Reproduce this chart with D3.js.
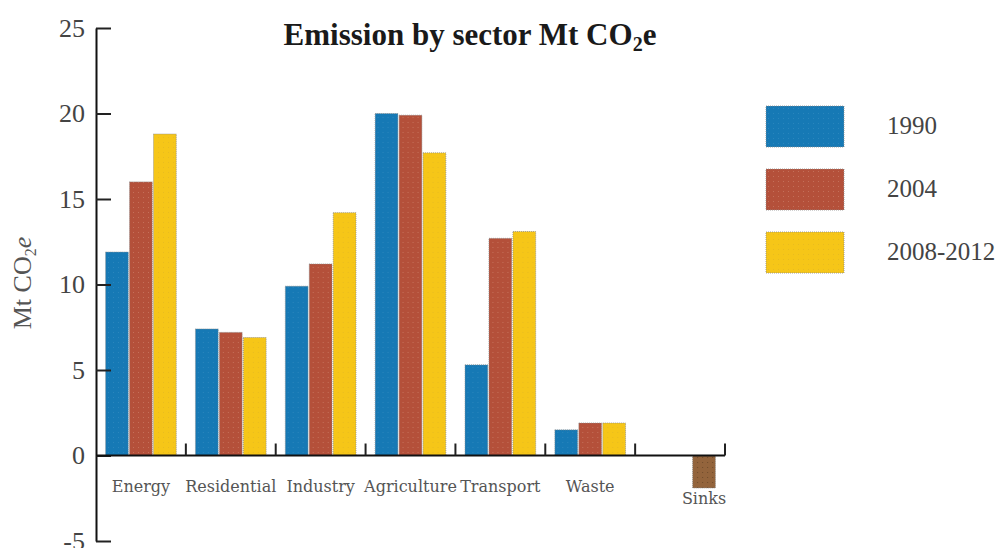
<!DOCTYPE html>
<html>
<head>
<meta charset="utf-8">
<script src="https://cdn.jsdelivr.net/npm/d3@7"></script>
<style>
  body { margin: 0; background: #fff; }
  svg { display: block; }
</style>
</head>
<body>
<svg id="chart" width="1000" height="548"></svg>
<script>
// données
var sectors = ["Energy", "Residential", "Industry", "Agriculture", "Transport", "Waste", "Sinks"];
var series = ["1990", "2004", "2008-2012"];
var val1990 = [11.9, 7.4, 9.9, 20.0, 5.3, 1.5, null];
var val2004 = [16.0, 7.2, 11.2, 19.9, 12.7, 1.9, null];
var val2008 = [18.8, 6.9, 14.2, 17.7, 13.1, 1.9, -1.9];
var yTicks = [-5, 0, 5, 10, 15, 20, 25];

var colors = ["#1679b5", "#b4503a", "#f6c618"];
var sinkColor = "#93643c";

var svg = d3.select("#chart");

// motifs pointillés pour imiter la trame des barres
var defs = svg.append("defs");
function makePattern(id, base, dot) {
  var p = defs.append("pattern")
    .attr("id", id)
    .attr("width", 5)
    .attr("height", 5)
    .attr("patternUnits", "userSpaceOnUse");
  p.append("rect").attr("width", 5).attr("height", 5).attr("fill", base);
  p.append("rect").attr("x", 2).attr("y", 2).attr("width", 1).attr("height", 1).attr("fill", dot);
}
makePattern("pat0", colors[0], "#2a86bd");
makePattern("pat1", colors[1], "#c4705a");
makePattern("pat2", colors[2], "#e8bb20");
makePattern("patS", sinkColor, "#6e4a2a");

// échelles
var y = d3.scaleLinear().domain([-5, 25]).range([541, 28]);
var x = d3.scaleBand().domain(sectors).range([96, 725]).padding(0);
var xSub = d3.scaleBand().domain(series).range([0, x.bandwidth()])
  .paddingInner(0.05).paddingOuter(0.4);

var table = sectors.map(function(s, i) {
  return { sector: s, values: [val1990[i], val2004[i], val2008[i]] };
});

// barres
var groups = svg.append("g").selectAll("g")
  .data(table)
  .enter()
  .append("g")
  .attr("transform", function(d) { return "translate(" + x(d.sector) + ",0)"; });

groups.selectAll("rect")
  .data(function(d) {
    return d.values.map(function(v, j) { return { key: series[j], j: j, v: v }; })
      .filter(function(e) { return e.v != null; });
  })
  .enter()
  .append("rect")
  .attr("x", function(d) { return xSub(d.key); })
  .attr("width", xSub.bandwidth())
  .attr("y", function(d) { return y(Math.max(0, d.v)); })
  .attr("height", function(d) { return Math.abs(y(d.v) - y(0)); })
  .attr("fill", function(d) { return d.v < 0 ? "url(#patS)" : "url(#pat" + d.j + ")"; })
  .attr("stroke", "#8a8a8a")
  .attr("stroke-width", 0.8)
  .attr("stroke-dasharray", "1,1");

// axe Y
var yAxis = d3.axisLeft(y)
  .tickValues(yTicks)
  .tickSize(-15)
  .tickSizeOuter(0)
  .tickPadding(11);

var gy = svg.append("g")
  .attr("transform", "translate(96,0)")
  .call(yAxis);
gy.select(".domain").attr("stroke", "#111").attr("stroke-width", 2);
gy.selectAll(".tick line").attr("stroke", "#222").attr("stroke-width", 2);
gy.selectAll(".tick text")
  .attr("font-family", "Liberation Serif, serif")
  .attr("font-size", "26px")
  .attr("fill", "#444")
  .text(function(d) { return d < 0 ? "-" + Math.abs(d) : d; });

// axe X (ligne du zéro avec graduations entre secteurs)
svg.append("line")
  .attr("x1", x.range()[0])
  .attr("x2", x.range()[1])
  .attr("y1", y(0))
  .attr("y2", y(0))
  .attr("stroke", "#111")
  .attr("stroke-width", 2);

svg.append("g").selectAll("line")
  .data(sectors)
  .enter()
  .append("line")
  .attr("x1", function(d) { return x(d) + x.bandwidth(); })
  .attr("x2", function(d) { return x(d) + x.bandwidth(); })
  .attr("y1", y(0))
  .attr("y2", y(0) - 12)
  .attr("stroke", "#222")
  .attr("stroke-width", 2);

// étiquettes des secteurs
svg.append("g").selectAll("text")
  .data(table)
  .enter()
  .append("text")
  .attr("text-anchor", "middle")
  .attr("x", function(d) {
    var neg = d.values.findIndex(function(v) { return v != null && v < 0; });
    if (neg >= 0) return x(d.sector) + xSub(series[neg]) + xSub.bandwidth() / 2;
    return x(d.sector) + x.bandwidth() / 2;
  })
  .attr("y", function(d) {
    var lo = d3.min(d.values.filter(function(v) { return v != null; }));
    return lo < 0 ? y(lo) + 16 : y(0) + 36;
  })
  .attr("font-family", "DejaVu Serif, serif")
  .attr("font-size", "16px")
  .attr("fill", "#555")
  .text(function(d) { return d.sector; });

// titre
var title = svg.append("text")
  .attr("x", 470)
  .attr("y", 45)
  .attr("text-anchor", "middle")
  .attr("font-family", "Liberation Serif, serif")
  .attr("font-weight", "bold")
  .attr("font-size", "31px")
  .attr("fill", "#1a1a1a");
title.append("tspan").text("Emission by sector Mt CO");
title.append("tspan").attr("dy", 6).attr("font-size", "20px").text("2");
title.append("tspan").attr("dy", -6).text("e");

// titre de l'axe Y
var ylab = svg.append("text")
  .attr("transform", "translate(31,283) rotate(-90)")
  .attr("text-anchor", "middle")
  .attr("font-family", "Liberation Serif, serif")
  .attr("font-size", "26px")
  .attr("fill", "#555");
ylab.append("tspan").text("Mt CO");
ylab.append("tspan").attr("dy", 5).attr("font-size", "16px").text("2");
ylab.append("tspan").attr("dy", -5).attr("font-style", "italic").text("e");

// légende
var legend = svg.append("g")
  .attr("transform", "translate(766,106)")
  .selectAll("g")
  .data(series)
  .enter()
  .append("g")
  .attr("transform", function(d, i) { return "translate(0," + i * 63 + ")"; });

legend.append("rect")
  .attr("width", 78)
  .attr("height", 41)
  .attr("fill", function(d, i) { return "url(#pat" + i + ")"; })
  .attr("stroke", "#8a8a8a")
  .attr("stroke-width", 0.8)
  .attr("stroke-dasharray", "1,1");

legend.append("text")
  .attr("x", 121)
  .attr("y", 28)
  .attr("font-family", "Liberation Serif, serif")
  .attr("font-size", "25px")
  .attr("fill", "#444")
  .text(function(d) { return d; });
</script>
</body>
</html>
